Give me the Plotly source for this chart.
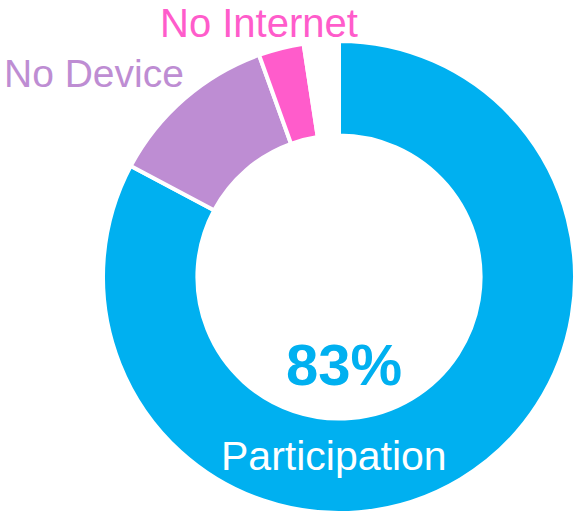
import plotly.graph_objects as go

W, H = 577, 513

# slice data, clockwise from 12 o'clock
labels = ["Participation", "No Device", "No Internet", "Other"]
values = [82.8, 11.7, 3.1, 2.4]
colors = ["#00B0F0", "#BE8DD3", "#FF5CCB", "#FFFFFF"]


def px(x, y):
    return x / W, 1 - y / H


# pie centre and radius in pixels
cx, cy, r = 339, 277, 236
x0, y1 = px(cx - r, cy - r)
x1, y0 = px(cx + r, cy + r)

fig = go.Figure()
fig.add_trace(
    go.Pie(
        labels=labels,
        values=values,
        sort=False,
        direction="clockwise",
        rotation=0,
        hole=0.6,
        textinfo="none",
        hoverinfo="label+percent",
        marker={"colors": colors, "line": {"color": "white", "width": 4}},
        domain={"x": [x0, min(x1, 1)], "y": [max(y0, 0), y1]},
        showlegend=False,
    )
)

font = "Liberation Sans, Arial, sans-serif"
# text, x, y, size, colour, bold, yanchor
notes = [
    ("No Internet", 259, 0, 40, colors[2], False, "top"),
    ("No Device", 94, 73.5, 39, colors[1], False, "middle"),
    ("83%", 343.5, 364, 58, colors[0], True, "middle"),
    ("Participation", 333.5, 455.5, 41, "white", False, "middle"),
]
for text, x, y, size, col, bold, ya in notes:
    xp, yp = px(x, y)
    fig.add_annotation(
        x=xp, y=yp, xref="paper", yref="paper",
        text=f"<b>{text}</b>" if bold else text,
        showarrow=False, xanchor="center", yanchor=ya,
        borderpad=0,
        font={"family": font, "size": size, "color": col},
    )

fig.update_layout(
    width=W,
    height=H,
    margin={"l": 0, "r": 0, "t": 0, "b": 0},
    paper_bgcolor="white",
    plot_bgcolor="white",
)

fig.write_html(
    "out.html",
    config={"displayModeBar": False},
    post_script="document.body.style.margin='0';",
)
